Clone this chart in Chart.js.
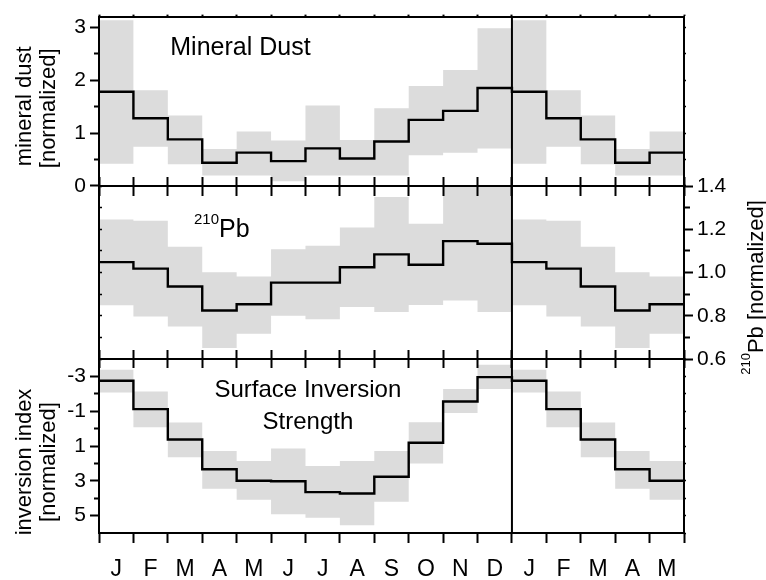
<!DOCTYPE html>
<html><head><meta charset="utf-8">
<script src="https://cdn.jsdelivr.net/npm/chart.js@4.4.1/dist/chart.umd.min.js"></script>
<style>
html,body{margin:0;padding:0;background:#fff;}
#wrap{position:relative;width:766px;height:580px;overflow:hidden;background:#fff;}
canvas{position:absolute;left:0;top:0;}
</style></head><body>
<div id="wrap">
<canvas id="c1" width="766" height="580"></canvas>
<canvas id="c2" width="766" height="580"></canvas>
<canvas id="c3" width="766" height="580"></canvas>
</div>
<script>
// ---------------- data ----------------
const monthLabels = ['J','F','M','A','M','J','J','A','S','O','N','D','J','F','M','A','M'];
const yearBreak = 12; // boundary between D and the following J

// mineral dust [normalized], Jan..Dec
const dustMean = [1.78, 1.28, 0.88, 0.44, 0.63, 0.47, 0.71, 0.52, 0.84, 1.25, 1.42, 1.85];
const dustHigh = [3.13, 1.81, 1.33, 0.70, 1.03, 0.86, 1.52, 0.87, 1.47, 1.89, 2.19, 2.98];
const dustLow  = [0.42, 0.74, 0.41, 0.20, 0.20, 0.09, 0.20, 0.20, 0.20, 0.58, 0.63, 0.71];

// 210Pb [normalized], Jan..Dec
const pbMean = [1.048, 1.018, 0.935, 0.824, 0.853, 0.953, 0.953, 1.024, 1.084, 1.036, 1.145, 1.133];
const pbHigh = [1.245, 1.239, 1.119, 1.001, 0.981, 1.107, 1.124, 1.208, 1.349, 1.225, 1.45, 1.45];
const pbLow  = [0.849, 0.796, 0.750, 0.651, 0.717, 0.800, 0.784, 0.840, 0.817, 0.850, 0.870, 0.817];

// inversion index [normalized], Jan..Dec (axis reversed)
const invMean  = [-2.75, -1.12, 0.63, 2.34, 3.00, 3.03, 3.65, 3.73, 2.77, 0.81, -1.56, -2.96];
const invUpper = [-3.38, -2.13, -0.35, 1.29, 1.86, 1.15, 2.15, 1.86, 1.29, -0.37, -2.27, -3.67];
const invLower = [-2.08, -0.08, 1.65, 3.46, 4.09, 4.92, 5.13, 5.55, 4.21, 2.00, -0.89, -2.27];

// axis ranges
const dustRange = [0, 3.2];
const pbRange = [0.6, 1.4];
const invRange = [-4, 6];

// ---------------- helpers ----------------
const FAMILY = '"Liberation Sans", Arial, Helvetica, sans-serif';
const BLACK = '#000';
const GRAY = '#dcdcdc';
const NONE = 'rgba(0,0,0,0)';
const FRAME = 2;
const MINOR_OUTER_START = [0, 4, 5, 100]; // left/top axes: tick path starts at outer end
const MINOR_INNER_START = [5, 100];       // right/bottom axes: tick path starts at inner end

function stepPts(vals) {
  const n = monthLabels.length;
  const pts = [];
  for (let i = 0; i < n; i++) pts.push({x: i, y: vals[i % vals.length]});
  pts.push({x: n, y: vals[(n - 1) % vals.length]});
  return pts;
}

function buildDatasets(mean, lo, hi, range, xId, yId) {
  const base = {pointRadius: 0, pointHoverRadius: 0, xAxisID: xId, yAxisID: yId, stepped: true};
  return [
    Object.assign({}, base, {order: 2, data: stepPts(lo), borderWidth: 0, borderColor: NONE, fill: false}),
    Object.assign({}, base, {order: 2, data: stepPts(hi), borderWidth: 0, borderColor: NONE, backgroundColor: GRAY, fill: '-1'}),
    Object.assign({}, base, {order: 1, data: stepPts(mean), borderWidth: 2.4, borderColor: BLACK, fill: false}),
    Object.assign({}, base, {order: 0, stepped: false, data: [{x: yearBreak, y: range[0]}, {x: yearBreak, y: range[1]}],
      borderWidth: 2, borderColor: BLACK, fill: false})
  ];
}

function xLinear(pos, tl) {
  return {
    type: 'linear', position: pos, min: 0, max: monthLabels.length,
    ticks: {display: false, stepSize: 1, maxTicksLimit: 100, autoSkip: false},
    grid: {z: 1, drawOnChartArea: false, drawTicks: true, tickLength: tl, tickWidth: 2, tickColor: BLACK},
    border: {z: 1, display: true, color: BLACK, width: FRAME},
    afterFit: s => { s.height = 0; }
  };
}

function yAxis(pos, range, opts) {
  const o = Object.assign({
    type: 'linear', position: pos, min: range[0], max: range[1],
    border: {z: 1, display: true, color: BLACK, width: FRAME},
    afterFit: s => { s.width = pos === 'left' ? 99 : 82; }
  }, opts);
  o.grid = Object.assign({z: 1, drawOnChartArea: false}, opts.grid || {});
  return o;
}

function drawRich(ctx, parts, x, y, rot, align) {
  ctx.save();
  ctx.translate(x, y);
  ctx.rotate(rot || 0);
  ctx.fillStyle = BLACK;
  ctx.textBaseline = 'alphabetic';
  ctx.textAlign = 'left';
  let total = 0;
  parts.forEach(p => { ctx.font = p.size + 'px ' + FAMILY; p.w = ctx.measureText(p.t).width; total += p.w; });
  let cx = align === 'center' ? -total / 2 : (align === 'right' ? -total : 0);
  parts.forEach(p => { ctx.font = p.size + 'px ' + FAMILY; ctx.fillText(p.t, cx, -(p.rise || 0)); cx += p.w; });
  ctx.restore();
}

function commonOptions(padTop, padBottom, scales) {
  return {
    responsive: false, animation: false, events: [],
    layout: {padding: {top: padTop, bottom: padBottom, left: 0, right: 0}},
    plugins: {legend: {display: false}, tooltip: {enabled: false}},
    scales: scales
  };
}

const tickFont = {family: FAMILY, size: 21};

// ---------------- panel 1: mineral dust ----------------
new Chart(document.getElementById('c1'), {
  type: 'line',
  data: {datasets: buildDatasets(dustMean, dustLow, dustHigh, dustRange, 'x', 'y')},
  options: commonOptions(12, 580 - 186, {
    x: xLinear('bottom', -9),
    xt: xLinear('top', 2),
    y: yAxis('left', dustRange, {
      ticks: {stepSize: 0.5, includeBounds: false, autoSkip: false, maxTicksLimit: 100, padding: 4,
        color: BLACK, font: tickFont,
        callback: v => (Number.isInteger(v) ? String(v) : '')},
      grid: {tickLength: 9, tickWidth: 2, tickColor: BLACK,
        tickBorderDash: c => (c.tick && Number.isInteger(c.tick.value)) ? [] : MINOR_OUTER_START}
    }),
    y2: yAxis('right', dustRange, {
      ticks: {display: false, stepSize: 0.5, includeBounds: false, autoSkip: false, maxTicksLimit: 100},
      grid: {tickLength: 2, tickWidth: 1.5, tickColor: BLACK}
    })
  }),
  plugins: [{
    id: 'txt1',
    afterDraw(chart) {
      const {ctx, chartArea: a, scales} = chart;
      const cy = (a.top + a.bottom) / 2;
      drawRich(ctx, [{t: 'Mineral Dust', size: 25}], scales.x.getPixelForValue(4.11), scales.y.getPixelForValue(2.47), 0, 'center');
      drawRich(ctx, [{t: 'mineral dust', size: 22}], a.left - 68, cy + 5, -Math.PI / 2, 'center');
      drawRich(ctx, [{t: '[normalized]', size: 22}], a.left - 44, cy + 7, -Math.PI / 2, 'center');
    }
  }]
});

// ---------------- panel 2: 210Pb ----------------
new Chart(document.getElementById('c2'), {
  type: 'line',
  data: {datasets: buildDatasets(pbMean, pbLow, pbHigh, pbRange, 'x', 'y')},
  options: commonOptions(186, 580 - 359, {
    x: xLinear('bottom', -9),
    xt: xLinear('top', -10),
    y: yAxis('left', pbRange, {
      ticks: {display: false, stepSize: 0.1, autoSkip: false, maxTicksLimit: 100},
      grid: {tickLength: -3, tickWidth: 1.5, tickColor: BLACK}
    }),
    y2: yAxis('right', pbRange, {
      ticks: {stepSize: 0.1, autoSkip: false, maxTicksLimit: 100, padding: 4, color: BLACK, font: tickFont,
        callback: v => (Math.round(v * 10) % 2 === 0 ? v.toFixed(1) : '')},
      grid: {tickLength: 9, tickWidth: 2, tickColor: BLACK,
        tickBorderDash: c => (c.tick && Math.round(c.tick.value * 10) % 2 === 0) ? [] : MINOR_INNER_START}
    })
  }),
  plugins: [{
    id: 'txt2',
    afterDraw(chart) {
      const {ctx, chartArea: a, scales} = chart;
      const cy = (a.top + a.bottom) / 2;
      drawRich(ctx, [{t: '210', size: 15, rise: 13}, {t: 'Pb', size: 25}],
        scales.x.getPixelForValue(2.76), scales.y.getPixelForValue(1.166), 0, 'left');
      drawRich(ctx, [{t: '210', size: 13, rise: 13}, {t: 'Pb [normalized]', size: 22}],
        a.right + 79, cy + 15, -Math.PI / 2, 'center');
    }
  }]
});

// ---------------- panel 3: surface inversion ----------------
new Chart(document.getElementById('c3'), {
  type: 'line',
  data: {labels: monthLabels, datasets: buildDatasets(invMean, invLower, invUpper, invRange, 'xt', 'y')},
  options: commonOptions(359, 0, {
    x: {
      type: 'category', position: 'bottom', labels: monthLabels, offset: true,
      ticks: {autoSkip: false, maxRotation: 0, minRotation: 0, padding: 13, color: BLACK, font: {family: FAMILY, size: 23}},
      grid: {z: 1, offset: true, drawOnChartArea: false, tickLength: 10, tickWidth: 2, tickColor: BLACK},
      border: {z: 1, display: true, color: BLACK, width: FRAME},
      afterFit: s => { s.height = 580 - 533; }
    },
    xt: xLinear('top', -9),
    y: yAxis('left', invRange, {
      reverse: true,
      ticks: {stepSize: 1, autoSkip: false, maxTicksLimit: 100, padding: 4, color: BLACK, font: tickFont,
        callback: v => (Math.abs(v % 2) === 1 ? String(v) : '')},
      grid: {tickLength: 9, tickWidth: 2,
        tickColor: c => (c.tick && (c.tick.value === invRange[0] || c.tick.value === invRange[1])) ? NONE : BLACK,
        tickBorderDash: c => (c.tick && Math.abs(c.tick.value % 2) === 1) ? [] : MINOR_OUTER_START}
    }),
    y2: yAxis('right', invRange, {
      reverse: true,
      ticks: {display: false, stepSize: 1, autoSkip: false, maxTicksLimit: 100},
      grid: {tickLength: 2, tickWidth: 1.5, tickColor: BLACK}
    })
  }),
  plugins: [{
    id: 'txt3',
    afterDraw(chart) {
      const {ctx, chartArea: a, scales} = chart;
      const cy = (a.top + a.bottom) / 2;
      drawRich(ctx, [{t: 'Surface Inversion', size: 24}], scales.xt.getPixelForValue(6.07), scales.y.getPixelForValue(-1.83), 0, 'center');
      drawRich(ctx, [{t: 'Strength', size: 24}], scales.xt.getPixelForValue(6.07), scales.y.getPixelForValue(0.02), 0, 'center');
      drawRich(ctx, [{t: 'inversion index', size: 22}], a.left - 68, cy + 16, -Math.PI / 2, 'center');
      drawRich(ctx, [{t: '[normalized]', size: 22}], a.left - 44, cy + 16, -Math.PI / 2, 'center');
    }
  }]
});
</script>
</body></html>
